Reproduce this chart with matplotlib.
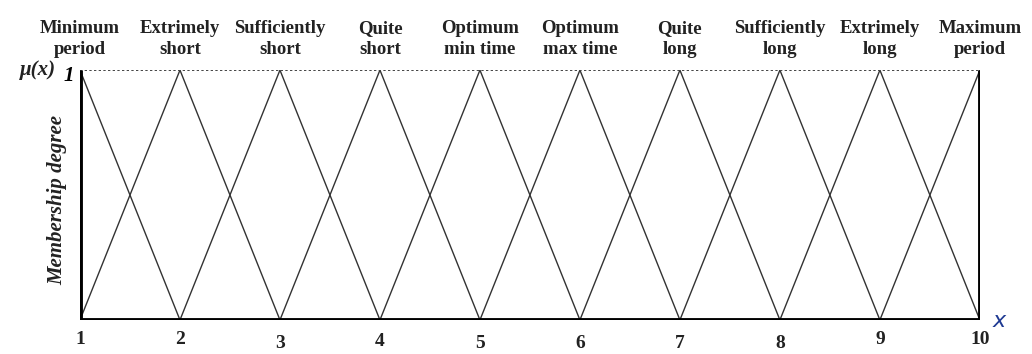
import matplotlib.pyplot as plt

# Fuzzy sets: peak positions and their linguistic labels
peaks = [1, 2, 3, 4, 5, 6, 7, 8, 9, 10]
labels = ["Minimum\nperiod", "Extrimely\nshort", "Sufficiently\nshort", "Quite\nshort",
          "Optimum\nmin time", "Optimum\nmax time", "Quite\nlong", "Sufficiently\nlong",
          "Extrimely\nlong", "Maximum\nperiod"]
tick_labels = ["1", "2", "3", "4", "5", "6", "7", "8", "9", "10"]
# small vertical offsets of tick labels as seen in the picture (points)
tick_drop = [0, 0, 2.5, 1.5, 3, 3, 2.5, 3, 0, 0]

serif = "Liberation Serif"

fig = plt.figure(figsize=(10.32, 3.54), dpi=100)
ax = fig.add_axes([0.0775, 0.096, 0.872, 0.706])

# triangular membership functions
for p in peaks:
    xs = [max(p - 1, peaks[0]), p, min(p + 1, peaks[-1])]
    ys = [0 if p > peaks[0] else 1, 1, 0 if p < peaks[-1] else 1]
    ax.plot(xs, ys, color="#333333", lw=1.0)

# frame
ax.plot([peaks[0], peaks[-1]], [1, 1], color="#444444", lw=1.4, ls=(0, (1.2, 1.2)))
ax.plot([peaks[0], peaks[-1]], [0, 0], color="black", lw=3.5, solid_capstyle="butt")
ax.plot([peaks[0], peaks[0]], [0, 1], color="black", lw=3.5, solid_capstyle="butt")
ax.plot([peaks[-1], peaks[-1]], [0, 1], color="black", lw=3.5, solid_capstyle="butt")

ax.set_xlim(peaks[0], peaks[-1])
ax.set_ylim(0, 1)
ax.axis("off")

# top labels
for p, lab in zip(peaks, labels):
    ax.annotate(lab, (p, 1), xytext=(0, 9), textcoords="offset points",
                ha="center", va="bottom", fontsize=13.5, fontweight="bold",
                family=serif, color="#222222", linespacing=1.3)

# x tick labels
for p, t, d in zip(peaks, tick_labels, tick_drop):
    ax.annotate(t, (p, 0), xytext=(0, -8 - d), textcoords="offset points",
                ha="center", va="top", fontsize=14, fontweight="bold",
                family=serif, color="#222222")

ax.annotate("1", (peaks[0], 1), xytext=(-4, -4), textcoords="offset points",
            ha="right", va="center", fontsize=15, fontweight="bold",
            fontstyle="italic", family=serif)
ax.annotate("μ(x)", (peaks[0], 1), xytext=(-17, 0), textcoords="offset points",
            ha="right", va="center", fontsize=15, fontweight="bold",
            fontstyle="italic", family=serif, color="#222222")
ax.annotate("Membership degree", (peaks[0], 0.48), xytext=(-16, 0),
            textcoords="offset points", ha="center", va="center", rotation=90,
            fontsize=15, fontweight="bold", fontstyle="italic", family=serif,
            color="#222222")
ax.annotate("x", (peaks[-1], 0), xytext=(14, -1), textcoords="offset points",
            ha="center", va="center", fontsize=16, fontstyle="italic",
            family="DejaVu Sans", color="#1f3a93")

fig.savefig("out.png", dpi=100)
